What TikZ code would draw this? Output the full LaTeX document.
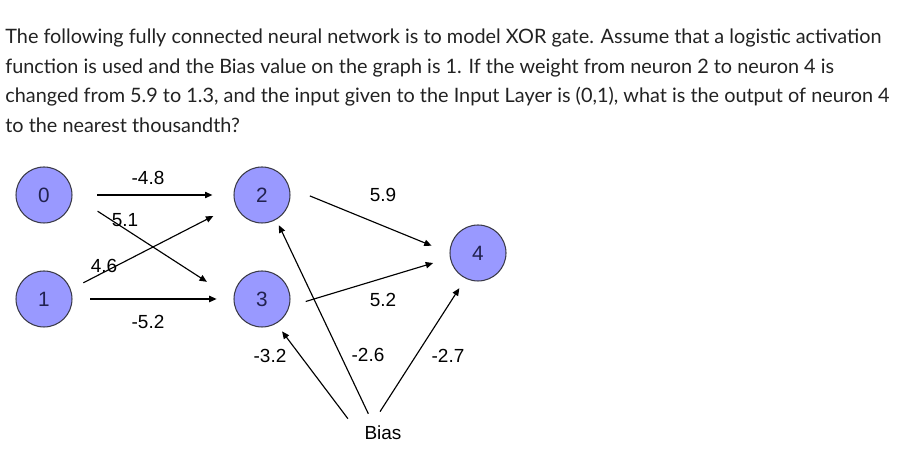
\documentclass[tikz,border=0pt]{standalone}
\usepackage{fontspec}
\setmainfont{Lato}
\newfontfamily\arialfont{Liberation Sans}
\usetikzlibrary{arrows.meta,positioning,calc}
\definecolor{NeuronFill}{HTML}{9999FF}
\definecolor{NeuronText}{HTML}{22224F}
\definecolor{NeuronLine}{HTML}{3A3A48}
\definecolor{QText}{HTML}{222222}

\begin{document}
\begin{tikzpicture}[x=0.02cm, y=-0.02cm,
  neuron/.style={circle, draw=NeuronLine, line width=0.6pt, fill=NeuronFill, minimum size=1.12cm, inner sep=0pt, text=NeuronText, font=\arialfont\fontsize{11.8}{13}\selectfont},
  weight/.style={inner sep=0pt, font=\arialfont\fontsize{10.8}{13}\selectfont},
  link/.style={-{Triangle[length=4.2pt, width=3.6pt]}, line width=0.65pt, draw=black}
]
\useasboundingbox (0,0) rectangle (917,465);

% question text
\node[anchor=north west, align=left, inner sep=0pt, text=QText, font=\fontsize{11.3}{16.85}\selectfont] (question) at (5,28.5)
  {The following fully connected neural network is to model XOR gate. Assume that a logistic activation\\
   function is used and the Bias value on the graph is 1. If the weight from neuron 2 to neuron 4 is\\
   changed from 5.9 to 1.3, and the input given to the Input Layer is (0,1), what is the output of neuron 4\\
   to the nearest thousandth?};

% neurons
\node[neuron] (n0) at (44,195) {0};
\node[neuron] (n1) at (44,299) {1};
\node[neuron] (n2) at (262,195) {2};
\node[neuron] (n3) at (262,299) {3};
\node[neuron] (n4) at (478,253) {4};
\node[weight] (bias) at (383,433) {Bias};

% input -> hidden
\draw[link, shorten <=14pt, shorten >=12pt] (n0.east) -- (n2.west);
\draw[link, shorten <=17pt, shorten >=18pt] (n0.east) -- (n3.west);
\draw[link, shorten <=8pt, shorten >=14pt] (n1.20) -- (n2.200);
\draw[link, shorten <=10pt, shorten >=9.6pt] (n1.east) -- (n3.west);
% hidden -> output
\draw[link, shorten <=12.5pt, shorten >=11pt] (n2.15) -- (n4.west);
\draw[link, shorten <=9.6pt, shorten >=10pt] (n3.-15) -- (n4.190);
% bias
\draw[link, shorten <=5pt, shorten >=5.5pt] ($(bias.north west)+(-11,0)$) -- (n3.-60);
\draw[link, shorten <=7.5pt, shorten >=3.5pt] ($(bias.north)+(-9,0)$) -- (n2.-60);
\draw[link, shorten <=9.5pt, shorten >=6.5pt] ($(bias.north)+(-12,0)$) -- (n4.-116);

% weights
\node[weight] (w02) at (148,178) {-4.8};
\node[weight] (w03) at (125,220) {5.1};
\node[weight] (w12) at (104,266) {4.6};
\node[weight] (w13) at (148,322) {-5.2};
\node[weight] (w24) at (383,195) {5.9};
\node[weight] (w34) at (383,300) {5.2};
\node[weight] (wb3) at (270,356) {-3.2};
\node[weight] (wb2) at (368,355) {-2.6};
\node[weight] (wb4) at (448,356) {-2.7};
\end{tikzpicture}
\end{document}
